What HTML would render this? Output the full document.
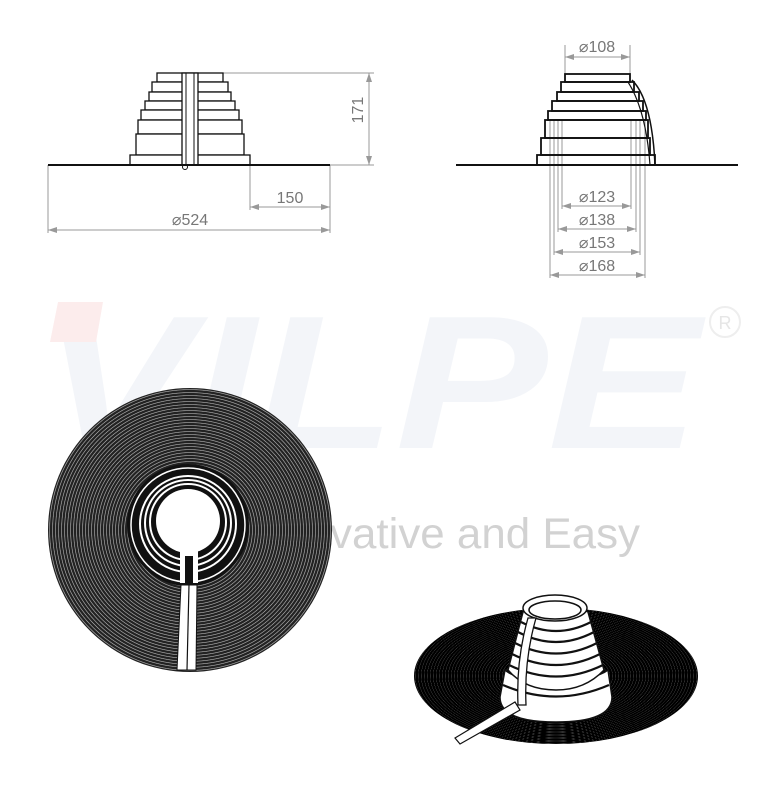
<!DOCTYPE html>
<html><head><meta charset="utf-8"><style>
html,body{margin:0;padding:0;background:#fff;}
svg{display:block;}
text{font-family:"Liberation Sans",sans-serif;}
</style></head><body>
<svg width="780" height="787" viewBox="0 0 780 787" xmlns="http://www.w3.org/2000/svg">
<defs>
<radialGradient id="rg" gradientUnits="userSpaceOnUse" cx="190" cy="530" r="3" spreadMethod="repeat">
<stop offset="0" stop-color="#222"/><stop offset="0.6" stop-color="#222"/><stop offset="0.8" stop-color="#bbb"/><stop offset="1" stop-color="#222"/>
</radialGradient>
<radialGradient id="rg2" gradientUnits="userSpaceOnUse" cx="556" cy="676" r="3" spreadMethod="repeat" gradientTransform="translate(556 676) scale(1 0.5) translate(-556 -676)">
<stop offset="0" stop-color="#000"/><stop offset="0.8" stop-color="#000"/><stop offset="0.9" stop-color="#666"/><stop offset="1" stop-color="#000"/>
</radialGradient>
</defs>

<!-- watermark -->
<g font-style="italic" font-weight="bold" font-size="190" fill="#f3f5f9">
<text x="40" y="448" textLength="660" lengthAdjust="spacingAndGlyphs">VILPE</text>
</g>
<polygon points="58,302 103,302 96,342 50,342" fill="#fcecec"/>
<circle cx="725" cy="322" r="15" fill="none" stroke="#eee" stroke-width="2"/>
<text x="725" y="329" font-size="18" fill="#e6e6e6" text-anchor="middle">R</text>
<text x="330" y="548" font-size="43" fill="#d2d2d2" textLength="310" lengthAdjust="spacingAndGlyphs">vative and Easy</text>

<!-- top-left elevation -->
<g stroke="#999" stroke-width="1" fill="none">
<line x1="223" y1="73" x2="374" y2="73"/><line x1="330" y1="165" x2="374" y2="165"/>
<line x1="369" y1="73" x2="369" y2="165"/>
<line x1="250" y1="165" x2="250" y2="210"/><line x1="330" y1="165" x2="330" y2="233"/>
<line x1="48" y1="165" x2="48" y2="233"/>
<line x1="250" y1="207" x2="330" y2="207"/><line x1="48" y1="230" x2="330" y2="230"/>
</g>
<g fill="#999">
<path d="M369 73 l-3 9 h6z"/><path d="M369 165 l-3 -9 h6z"/>
<path d="M250 207 l9 -3 v6z"/><path d="M330 207 l-9 -3 v6z"/>
<path d="M48 230 l9 -3 v6z"/><path d="M330 230 l-9 -3 v6z"/>
</g>
<text x="363" y="110" font-size="16" fill="#777" text-anchor="middle" transform="rotate(-90 363 110)">171</text>
<text x="290" y="203" font-size="16" fill="#777" text-anchor="middle">150</text>
<text x="190" y="225" font-size="16" fill="#777" text-anchor="middle">⌀524</text>
<g stroke="#111" stroke-width="1.3" fill="#fff">
<rect x="157" y="73" width="66" height="9"/>
<rect x="152" y="82" width="76" height="10"/>
<rect x="149" y="92" width="82" height="9"/>
<rect x="145" y="101" width="90" height="9"/>
<rect x="141" y="110" width="98" height="10"/>
<rect x="138" y="120" width="104" height="14"/>
<rect x="136" y="134" width="108" height="21"/>
<rect x="130" y="155" width="120" height="10"/>
<rect x="182" y="73" width="16" height="92"/>
</g>
<g stroke="#111" stroke-width="1"><line x1="186" y1="73" x2="186" y2="165"/><line x1="194" y1="73" x2="194" y2="165"/></g>
<circle cx="185" cy="167" r="2.5" fill="#fff" stroke="#111"/>
<line x1="48" y1="165" x2="330" y2="165" stroke="#111" stroke-width="2"/>

<!-- top-right elevation -->
<g stroke="#999" stroke-width="1" fill="none">
<line x1="565" y1="45" x2="565" y2="74"/><line x1="630" y1="45" x2="630" y2="74"/>
<line x1="565" y1="57" x2="630" y2="57"/>
<line x1="550" y1="120" x2="550" y2="278"/><line x1="554" y1="120" x2="554" y2="255"/><line x1="558" y1="120" x2="558" y2="232"/><line x1="562" y1="120" x2="562" y2="209"/>
<line x1="645" y1="120" x2="645" y2="278"/><line x1="640" y1="120" x2="640" y2="255"/><line x1="636" y1="120" x2="636" y2="232"/><line x1="631" y1="120" x2="631" y2="209"/>
<line x1="562" y1="206" x2="631" y2="206"/><line x1="558" y1="229" x2="636" y2="229"/><line x1="554" y1="252" x2="640" y2="252"/><line x1="550" y1="275" x2="645" y2="275"/>
</g>
<g fill="#999">
<path d="M565 57 l9 -3 v6z"/><path d="M630 57 l-9 -3 v6z"/>
<path d="M562 206 l9 -3 v6z"/><path d="M631 206 l-9 -3 v6z"/>
<path d="M558 229 l9 -3 v6z"/><path d="M636 229 l-9 -3 v6z"/>
<path d="M554 252 l9 -3 v6z"/><path d="M640 252 l-9 -3 v6z"/>
<path d="M550 275 l9 -3 v6z"/><path d="M645 275 l-9 -3 v6z"/>
</g>
<g font-size="16" fill="#777" text-anchor="middle">
<text x="597" y="52">⌀108</text>
<text x="597" y="202">⌀123</text>
<text x="597" y="225">⌀138</text>
<text x="597" y="248">⌀153</text>
<text x="597" y="271">⌀168</text>
</g>
<g stroke="#111" stroke-width="1.8" fill="none">
<rect x="565" y="74" width="65" height="8"/>
<rect x="561" y="82" width="73" height="10"/>
<rect x="557" y="92" width="82" height="9"/>
<rect x="552" y="101" width="91" height="10"/>
<rect x="548" y="111" width="98" height="9"/>
<rect x="545" y="120" width="103" height="18"/>
<rect x="541" y="138" width="109" height="17"/>
<rect x="537" y="155" width="118" height="10"/>
<path d="M632 80 Q652 100 655 165" stroke-width="1.5"/>
<path d="M628 82 Q646 110 650 165" stroke-width="1.2"/>
</g>
<line x1="456" y1="165" x2="738" y2="165" stroke="#111" stroke-width="2"/>

<!-- bottom-left plan -->
<circle cx="190" cy="530" r="142" fill="url(#rg)"/>
<circle cx="188" cy="525" r="61" fill="#111"/>
<circle cx="188" cy="525" r="57" fill="none" stroke="#fff" stroke-width="1.5"/>
<circle cx="188" cy="524" r="48" fill="none" stroke="#fff" stroke-width="2"/>
<circle cx="188" cy="523" r="43" fill="none" stroke="#fff" stroke-width="2"/>
<circle cx="188" cy="522" r="38" fill="none" stroke="#fff" stroke-width="2"/>
<circle cx="188" cy="521" r="32" fill="#fff"/>
<rect x="180" y="548" width="18" height="35" fill="#fff"/>
<rect x="185" y="556" width="8" height="27" fill="#111"/>
<path d="M181 585 L197 585 L196 670 L177 670 Z" fill="#fff" stroke="#111"/>
<line x1="189" y1="585" x2="187" y2="670" stroke="#111" stroke-width="1.2"/>

<!-- bottom-right 3D -->
<ellipse cx="556" cy="676" rx="142" ry="68" fill="url(#rg2)"/>
<path d="M500 697 Q500 722 556 722 Q612 722 612 697 L608 670 Q595 680 556 680 Q515 680 505 670 Z" fill="#fff" stroke="#111" stroke-width="1.5"/>
<path d="M508 670 L523 612 Q556 596 588 612 L604 670 Q585 690 556 690 Q525 690 508 670Z" fill="#fff" stroke="#111" stroke-width="1.5"/>
<g stroke="#111" stroke-width="2.2" fill="none">
<path d="M521 622 Q556 640 591 622"/>
<path d="M518 632 Q556 652 594 632"/>
<path d="M515 643 Q556 664 597 643"/>
<path d="M512 654 Q556 676 600 654"/>
<path d="M509 665 Q556 688 603 665"/>
<path d="M503 685 Q556 708 609 685"/>
</g>
<ellipse cx="555" cy="608" rx="32" ry="13" fill="#fff" stroke="#111" stroke-width="1.5"/>
<ellipse cx="555" cy="610" rx="26" ry="9" fill="none" stroke="#111" stroke-width="1.5"/>
<path d="M528 618 Q516 660 518 705 L526 705 Q524 660 536 618 Z" fill="#fff" stroke="#111" stroke-width="1.3"/>
<path d="M455 738 L515 702 L520 710 L460 744 Z" fill="#fff" stroke="#111" stroke-width="1.2"/>
</svg>
</body></html>
